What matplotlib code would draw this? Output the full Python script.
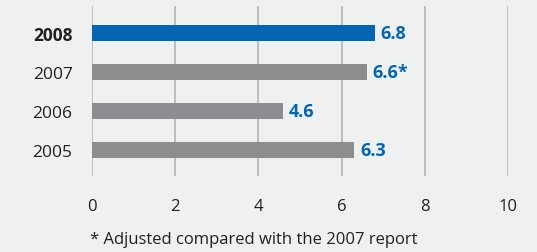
import matplotlib.pyplot as plt

plt.rcParams['font.family'] = ['Open Sans', 'DejaVu Sans']

# data
years = ['2005', '2006', '2007', '2008']
values = [6.3, 4.6, 6.6, 6.8]
value_labels = ['6.3', '4.6', '6.6*', '6.8']
x_ticks = [0, 2, 4, 6, 8, 10]
footnote = '* Adjusted compared with the 2007 report'

BG = '#eff0f0'
BLUE = '#0066b3'
GREY = '#8c8d8f'
TEXT = '#231f20'

W, H = 537, 253
fig = plt.figure(figsize=(W / 100, H / 100), dpi=100, facecolor=BG)
# axes box in pixel terms: x 92..508, y 7..177
ax = fig.add_axes([92 / W, 1 - 177 / H, (508 - 92) / W, 170 / H])
ax.set_facecolor(BG)

pos = list(range(len(years)))
colors = [GREY, GREY, GREY, BLUE]
ax.barh(pos, values, height=0.41, color=colors, zorder=3)

for p, v, lab in zip(pos, values, value_labels):
    ax.text(v + 0.14, p, lab, va='center', ha='left', color=BLUE,
            fontsize=13, fontweight='bold', zorder=4)

ax.set_xlim(0, 10)
ax.set_ylim(-0.667, 3.69)

for x in x_ticks:
    ax.axvline(x, color='#b2b3b4', lw=1.2, zorder=1)

for s in ax.spines.values():
    s.set_visible(False)

ax.set_xticks(x_ticks)
ax.set_xticklabels([str(t) for t in x_ticks], fontsize=12, color=TEXT)
ax.tick_params(axis='x', length=0, pad=16)

ax.set_yticks(pos)
ax.set_yticklabels(years, fontsize=12.5, color=TEXT)
ax.get_yticklabels()[-1].set_fontweight('bold')
ax.tick_params(axis='y', length=0, pad=14)

fig.text(90 / W, 1 - 240 / H, footnote, ha='left', va='center',
         fontsize=12, color=TEXT)

fig.savefig('out.png', dpi=100, facecolor=BG)
plt.close(fig)
